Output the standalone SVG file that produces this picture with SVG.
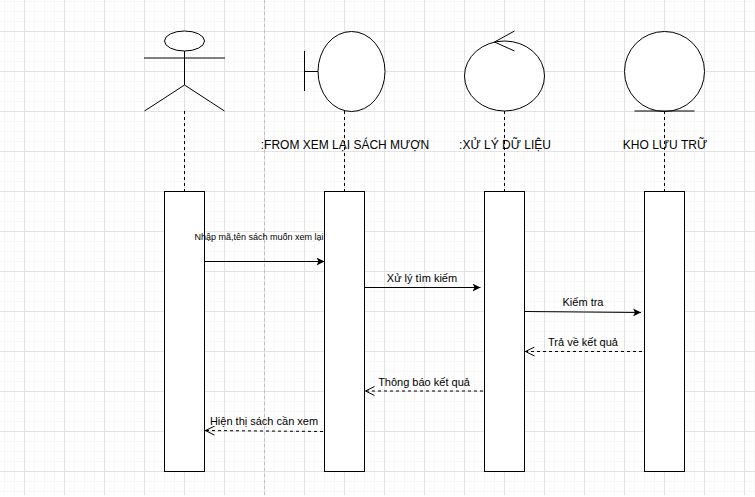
<svg xmlns="http://www.w3.org/2000/svg" width="755" height="497" viewBox="0 0 755 497">
<style>
.s{fill:none;stroke:#000;stroke-width:1}
.b{fill:#fff;stroke:#000;stroke-width:1}
.l{fill:none;stroke:#000;stroke-width:1;stroke-dasharray:3 3}
.m{fill:none;stroke:#000;stroke-width:1}
.r{fill:none;stroke:#000;stroke-width:1;stroke-dasharray:3 3}
text{font-family:"Liberation Sans",Arial,sans-serif;fill:#000;text-anchor:middle}
.n{font-size:12px}
.t{font-size:11px}
</style>
<defs>
<pattern id="g" width="40" height="40" patternUnits="userSpaceOnUse" x="-16" y="-9">
<path d="M10.5 0V40M20.5 0V40M30.5 0V40M0 10.5H40M0 20.5H40M0 30.5H40" fill="none" stroke="#f7f7f7"/>
<path d="M0.5 0V40M0 0.5H40" fill="none" stroke="#e2e2e2"/>
</pattern>
<marker id="fa" markerUnits="userSpaceOnUse" markerWidth="9" markerHeight="8" refX="8" refY="4" orient="auto"><path d="M0 0L8 4L0 8L2 4Z" fill="#000"/></marker>
<marker id="oa" markerUnits="userSpaceOnUse" markerWidth="11" markerHeight="10" refX="10" refY="5" orient="auto"><path d="M1 0.5L10 5L1 9.500" fill="none" stroke="#000"/></marker>
</defs>
<rect width="755" height="497" fill="#fff"/>
<rect width="755" height="495" fill="url(#g)"/>
<path d="M264.5 0V495" stroke="#bdbdbd" stroke-dasharray="3 3" fill="none"/>
<g id="lifelines">
<path class="l" d="M184.5 111V191"/>
<path class="l" d="M344.5 111V191"/>
<path class="l" d="M504.5 111V191"/>
<path class="l" d="M664.5 111V191"/>
</g>
<g id="actor">
<ellipse class="b" cx="184.5" cy="41" rx="20" ry="10"/>
<path class="s" d="M184.5 51V85M144 58H225M184.5 85L144.500 111M184.5 85L224.500 111"/>
</g>
<g id="boundary">
<ellipse class="b" cx="351.500" cy="71.500" rx="33.500" ry="40"/>
<path class="s" d="M304.500 51V91M304.500 71.500H318"/>
</g>
<g id="control">
<ellipse class="b" cx="504.500" cy="76" rx="40" ry="35"/>
<path class="s" d="M514.500 31L494.500 42L514.500 51"/>
</g>
<g id="entity">
<circle class="b" cx="664.500" cy="71.500" r="40"/>
<path class="s" d="M634.500 111H694.500"/>
</g>
<g id="label-from"><text class="n" x="345" y="149">:FROM XEM LẠI SÁCH MƯỢN</text></g>
<g id="label-xuly"><text class="n" x="505" y="149">:XỬ LÝ DỮ LIỆU</text></g>
<g id="label-kho"><text class="n" x="665" y="149">KHO LƯU TRỮ</text></g>
<g id="activation-1"><rect class="b" x="164.500" y="191.500" width="40" height="280"/></g>
<g id="activation-2"><rect class="b" x="324.500" y="191.500" width="40" height="280"/></g>
<g id="activation-3"><rect class="b" x="484.500" y="191.500" width="40" height="280"/></g>
<g id="activation-4"><rect class="b" x="644.500" y="191.500" width="40" height="280"/></g>
<g id="connectors">
<path class="m" marker-end="url(#fa)" d="M204.500 261.500H324.500"/>
<path class="m" marker-end="url(#fa)" d="M364.500 287.500H480.500"/>
<path class="m" marker-end="url(#fa)" d="M524.500 311.500L641 312.500"/>
<path class="r" marker-end="url(#oa)" d="M642 351.500H525.500"/>
<path class="r" marker-end="url(#oa)" d="M483 391H365.500"/>
<path class="r" marker-end="url(#oa)" d="M323 431.500L205.500 430.500"/>
</g>
<g id="connector-labels">
<text class="t" style="font-size:9px" x="259" y="240">Nhập mã,tên sách muốn xem lại</text>
<text class="t" x="422" y="282">Xử lý tìm kiếm</text>
<text class="t" x="583" y="306">Kiểm tra</text>
<text class="t" x="583" y="346">Trả về kết quả</text>
<text class="t" x="424" y="386">Thông báo kết quả</text>
<text class="t" x="264" y="425">Hiện thị sách cần xem</text>
</g>
</svg>
